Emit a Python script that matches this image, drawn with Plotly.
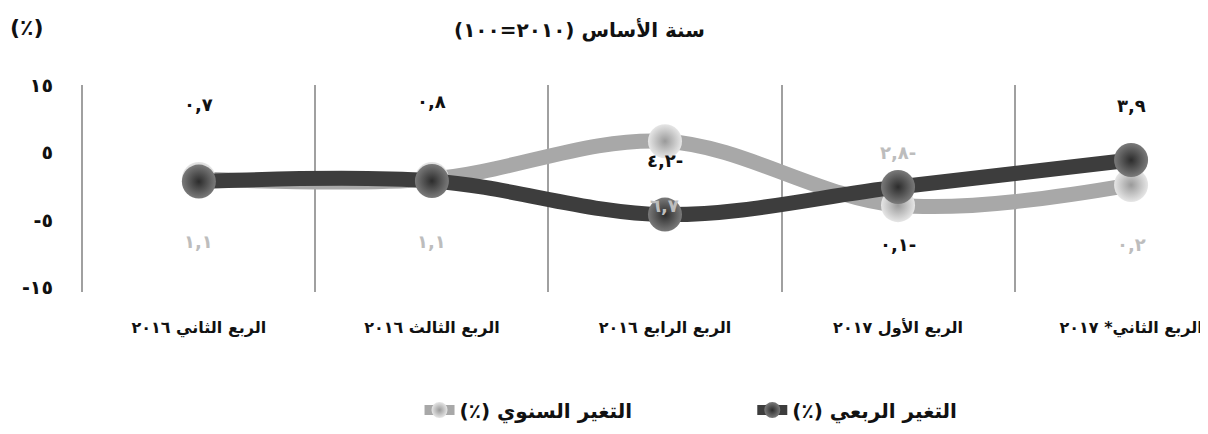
"""
Quarterly and annual change chart (base year 2010=100)
"""

import plotly.graph_objects as go

# Data
quarters = [
    "الربع الثاني ٢٠١٦",
    "الربع الثالث ٢٠١٦",
    "الربع الرابع ٢٠١٦",
    "الربع الأول ٢٠١٧",
    "الربع الثاني* ٢٠١٧",
]
quarterly_change = [0.7, 0.8, -4.2, -0.1, 3.9]
annual_change = [1.1, 1.1, 6.7, -2.8, 0.2]

y_ticks = [15, 5, -5, -15]
y_tick_labels = ["١٥", "٥", "-٥", "-١٥"]

# label offsets (px) above / below each point
quarterly_label_shift = [77, 79, 54, -58, 55]
annual_label_shift = [-63, -63, -64, 53, -60]

AR_DIGITS = str.maketrans("0123456789", "٠١٢٣٤٥٦٧٨٩")
FONT = "DejaVu Sans"


def ar_num(v):
    """Arabic-Indic number, comma decimal, trailing minus"""
    s = f"{abs(v):.1f}".replace(".", ",").translate(AR_DIGITS)
    return s + "-" if v < 0 else s


fig = go.Figure()

fig.add_trace(go.Scatter(
    x=quarters, y=annual_change,
    name="التغير السنوي (٪)\u200f",
    mode="lines+markers",
    line=dict(color="#a8a8a8", width=15, shape="spline", smoothing=1),
    marker=dict(size=34, color="#e6e6e6", line=dict(width=0),
                gradient=dict(type="radial", color="#9a9a9a")),
    legend="legend",
    hoverinfo="skip",
))

fig.add_trace(go.Scatter(
    x=quarters, y=quarterly_change,
    name="التغير الربعي (٪)\u200f",
    mode="lines+markers",
    line=dict(color="#3d3d3d", width=15, shape="spline", smoothing=1),
    marker=dict(size=34, color="#7a7a7a", line=dict(width=0),
                gradient=dict(type="radial", color="#2c2c2c")),
    legend="legend2",
    hoverinfo="skip",
))

# data labels
for q, v, dy in zip(quarters, quarterly_change, quarterly_label_shift):
    fig.add_annotation(x=q, y=v, yshift=dy, text=ar_num(v), showarrow=False,
                       font=dict(family=FONT, size=18, color="#111111", weight="bold"))
for q, v, dy in zip(quarters, annual_change, annual_label_shift):
    fig.add_annotation(x=q, y=v, yshift=dy, text=ar_num(v), showarrow=False,
                       font=dict(family=FONT, size=18, color="#bdbdbd", weight="bold"))

# title and unit
fig.add_annotation(text="\u200fسنة الأساس (٢٠١٠=١٠٠)\u200f", xref="paper", yref="paper",
                   x=0.443, y=1.266, xanchor="center", yanchor="middle", showarrow=False,
                   font=dict(family=FONT, size=20, color="#111111", weight="bold"))
fig.add_annotation(text="(٪)", xref="paper", yref="paper",
                   x=-0.047, y=1.28, xanchor="center", yanchor="middle", showarrow=False,
                   font=dict(family=FONT, size=22, color="#111111", weight="bold"))

fig.update_xaxes(
    type="category",
    range=[-0.51, 4.33],
    tickson="boundaries",
    showgrid=True, gridcolor="#a0a0a0", gridwidth=2,
    showline=False, zeroline=False, ticks="",
    ticklabelstandoff=24,
    tickfont=dict(family=FONT, size=16, color="#111111", weight="bold"),
)
fig.update_yaxes(
    range=[-15.7, 15.05],
    tickvals=y_ticks, ticktext=y_tick_labels,
    showgrid=False, showline=False, zeroline=False, ticks="",
    ticklabelstandoff=26,
    tickfont=dict(family=FONT, size=19, color="#111111", weight="bold"),
)

legend_style = dict(orientation="h", y=-0.57, yanchor="middle", xanchor="left",
                    font=dict(family=FONT, size=20, color="#111111", weight="bold"),
                    bgcolor="rgba(0,0,0,0)")

fig.update_layout(
    width=1200, height=426,
    margin=dict(l=72, r=0, t=77, b=142, autoexpand=False),
    paper_bgcolor="white", plot_bgcolor="white",
    showlegend=True,
    legend=dict(x=0.301, **legend_style),
    legend2=dict(x=0.596, **legend_style),
)

fig.write_html("out.html")
